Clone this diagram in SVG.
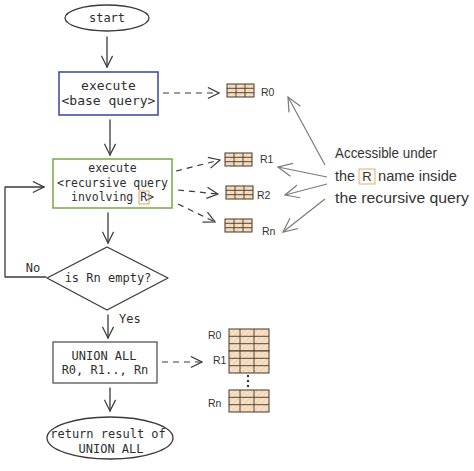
<svg xmlns="http://www.w3.org/2000/svg" xmlns:xlink="http://www.w3.org/1999/xlink" width="474" height="471" viewBox="0 0 474 471">
<style>
  .ln{fill:none;stroke:#3a3a3a;stroke-width:1.3;stroke-linecap:round;stroke-linejoin:round}
  .dash{fill:none;stroke:#3a3a3a;stroke-width:1.2;stroke-dasharray:6 5}
  .gray{fill:none;stroke:#7a7a7a;stroke-width:1.2}
  .mono{font-family:"DejaVu Sans Mono","Liberation Mono",monospace;fill:#2e2e2e;text-anchor:middle}
  .hand{font-family:"Liberation Sans","DejaVu Sans",sans-serif;fill:#333}
  .lbl{font-family:"Liberation Sans","DejaVu Sans",sans-serif;fill:#333;font-size:10.5px}
  .tb{fill:url(#hatch);stroke:#4a3526;stroke-width:1}
  .tl{stroke:#4a3526;stroke-width:0.9}
</style>
<defs>
  <marker id="ah" viewBox="0 0 14 14" markerWidth="13" markerHeight="13" markerUnits="userSpaceOnUse" refX="13" refY="7" orient="auto">
    <path d="M1,1 L13,7 L1,13" fill="none" stroke="#3a3a3a" stroke-width="1.3"/>
  </marker>
  <marker id="ahg" viewBox="0 0 16 16" markerWidth="16" markerHeight="16" markerUnits="userSpaceOnUse" refX="15" refY="8" orient="auto">
    <path d="M1,1.5 L15,8 L1,14.5" fill="none" stroke="#7a7a7a" stroke-width="1.2"/>
  </marker>
  <pattern id="hatch" patternUnits="userSpaceOnUse" width="4" height="4" patternTransform="rotate(45)">
    <rect width="4" height="4" fill="#f5e0c6"/>
    <line x1="0" y1="0" x2="0" y2="4" stroke="#e9c8a0" stroke-width="1.2"/>
  </pattern>
  <g id="tsm">
    <rect class="tb" x="0" y="0" width="27" height="13"/>
    <line class="tl" x1="9" y1="0" x2="9" y2="13"/>
    <line class="tl" x1="18" y1="0" x2="18" y2="13"/>
    <line class="tl" x1="0" y1="4.3" x2="27" y2="4.3"/>
    <line class="tl" x1="0" y1="8.7" x2="27" y2="8.7"/>
  </g>
  <g id="tbg">
    <rect class="tb" x="0" y="0" width="40" height="22"/>
    <line class="tl" x1="11" y1="0" x2="11" y2="22"/>
    <line class="tl" x1="25" y1="0" x2="25" y2="22"/>
    <line class="tl" x1="0" y1="7.3" x2="40" y2="7.3"/>
    <line class="tl" x1="0" y1="14.7" x2="40" y2="14.7"/>
  </g>
</defs>
<rect width="474" height="471" fill="#ffffff"/>

<g id="connectors">
  <line class="ln" x1="107" y1="37" x2="107" y2="67" marker-end="url(#ah)"/>
  <line class="ln" x1="110" y1="120" x2="110" y2="155" marker-end="url(#ah)"/>
  <line class="ln" x1="108" y1="213" x2="108" y2="243" marker-end="url(#ah)"/>
  <polyline class="ln" points="46,277 5,277 5,187 44,187" marker-end="url(#ah)"/>
  <line class="ln" x1="108" y1="315" x2="108" y2="338" marker-end="url(#ah)"/>
  <line class="ln" x1="110" y1="388" x2="110" y2="411" marker-end="url(#ah)"/>
  <line class="dash" x1="163" y1="93" x2="219" y2="93" marker-end="url(#ah)"/>
  <line class="dash" x1="176" y1="171" x2="220" y2="160" marker-end="url(#ah)"/>
  <line class="dash" x1="178" y1="190" x2="218" y2="194" marker-end="url(#ah)"/>
  <line class="dash" x1="178" y1="204" x2="215" y2="222" marker-end="url(#ah)"/>
  <line class="dash" x1="162" y1="362" x2="202" y2="362" marker-end="url(#ah)"/>
  <line class="gray" x1="325" y1="165" x2="288" y2="97" marker-end="url(#ahg)"/>
  <line class="gray" x1="327" y1="177" x2="278" y2="167" marker-end="url(#ahg)"/>
  <line class="gray" x1="327" y1="184" x2="285" y2="195" marker-end="url(#ahg)"/>
  <line class="gray" x1="325" y1="199" x2="283" y2="232" marker-end="url(#ahg)"/>
  <text class="mono" x="33" y="272" font-size="12">No</text>
  <text class="mono" x="119" y="323" font-size="12" style="text-anchor:start">Yes</text>
</g>

<g id="start">
  <ellipse class="ln" cx="107" cy="18" rx="42" ry="13"/>
  <text class="mono" x="107" y="22" font-size="12">start</text>
</g>

<g id="base">
  <rect x="59" y="72" width="99" height="43" fill="none" stroke="#3447a0" stroke-width="1.5"/>
  <text class="mono" x="108.5" y="90" font-size="13">execute</text>
  <text class="mono" x="108.5" y="105" font-size="13">&lt;base query&gt;</text>
</g>

<g id="recursive">
  <rect x="53" y="159" width="119" height="49" fill="none" stroke="#78a646" stroke-width="1.5"/>
  <text class="mono" x="112.5" y="172" font-size="11.5">execute</text>
  <text class="mono" x="112.5" y="187" font-size="11.5">&lt;recursive query</text>
  <text class="mono" x="112.5" y="201" font-size="11.5">involving R&gt;</text>
  <rect x="139" y="191" width="10" height="13" fill="none" stroke="#d9a35e" stroke-width="1"/>
</g>

<g id="decision">
  <polygon class="ln" points="47,278 107,247 168,278 107,310"/>
  <text class="mono" x="108" y="282" font-size="12">is Rn empty?</text>
</g>

<g id="union">
  <rect x="53" y="342" width="104" height="41" fill="none" stroke="#555" stroke-width="1.3"/>
  <text class="mono" x="104" y="360" font-size="12">UNION ALL</text>
  <text class="mono" x="105" y="374" font-size="12">R0, R1.., Rn</text>
</g>

<g id="return">
  <ellipse class="ln" cx="110" cy="438" rx="63" ry="21"/>
  <text class="mono" x="108" y="438" font-size="12">return result of</text>
  <text class="mono" x="111" y="453" font-size="12">UNION ALL</text>
</g>

<g id="tables">
  <use xlink:href="#tsm" x="227" y="84"/>
  <text class="lbl" x="261" y="96">R0</text>
  <use xlink:href="#tsm" x="225" y="153"/>
  <text class="lbl" x="260" y="163">R1</text>
  <use xlink:href="#tsm" x="226" y="186"/>
  <text class="lbl" x="257" y="199">R2</text>
  <use xlink:href="#tsm" x="225" y="219"/>
  <text class="lbl" x="262" y="235">Rn</text>
</g>

<g id="stack">
  <use xlink:href="#tbg" x="229" y="329"/>
  <use xlink:href="#tbg" x="229" y="351"/>
  <use xlink:href="#tbg" x="229" y="390"/>
  <circle cx="248" cy="376" r="1.2" fill="#333"/>
  <circle cx="248" cy="381" r="1.2" fill="#333"/>
  <circle cx="248" cy="386" r="1.2" fill="#333"/>
  <text class="lbl" x="208" y="339">R0</text>
  <text class="lbl" x="213" y="364">R1</text>
  <text class="lbl" x="208" y="407">Rn</text>
</g>

<g id="note">
  <text class="hand" x="335" y="158" font-size="15" textLength="102" lengthAdjust="spacingAndGlyphs">Accessible under</text>
  <text class="hand" x="335" y="181" font-size="15" textLength="20" lengthAdjust="spacingAndGlyphs">the</text>
  <rect x="359" y="169" width="16" height="15" fill="#fffaf2" stroke="#d9b27a" stroke-width="1"/>
  <text class="hand" x="367" y="181" font-size="13" text-anchor="middle">R</text>
  <text class="hand" x="378" y="181" font-size="15" textLength="79" lengthAdjust="spacingAndGlyphs">name inside</text>
  <text class="hand" x="335" y="203" font-size="15" textLength="134" lengthAdjust="spacingAndGlyphs">the recursive query</text>
</g>
</svg>
